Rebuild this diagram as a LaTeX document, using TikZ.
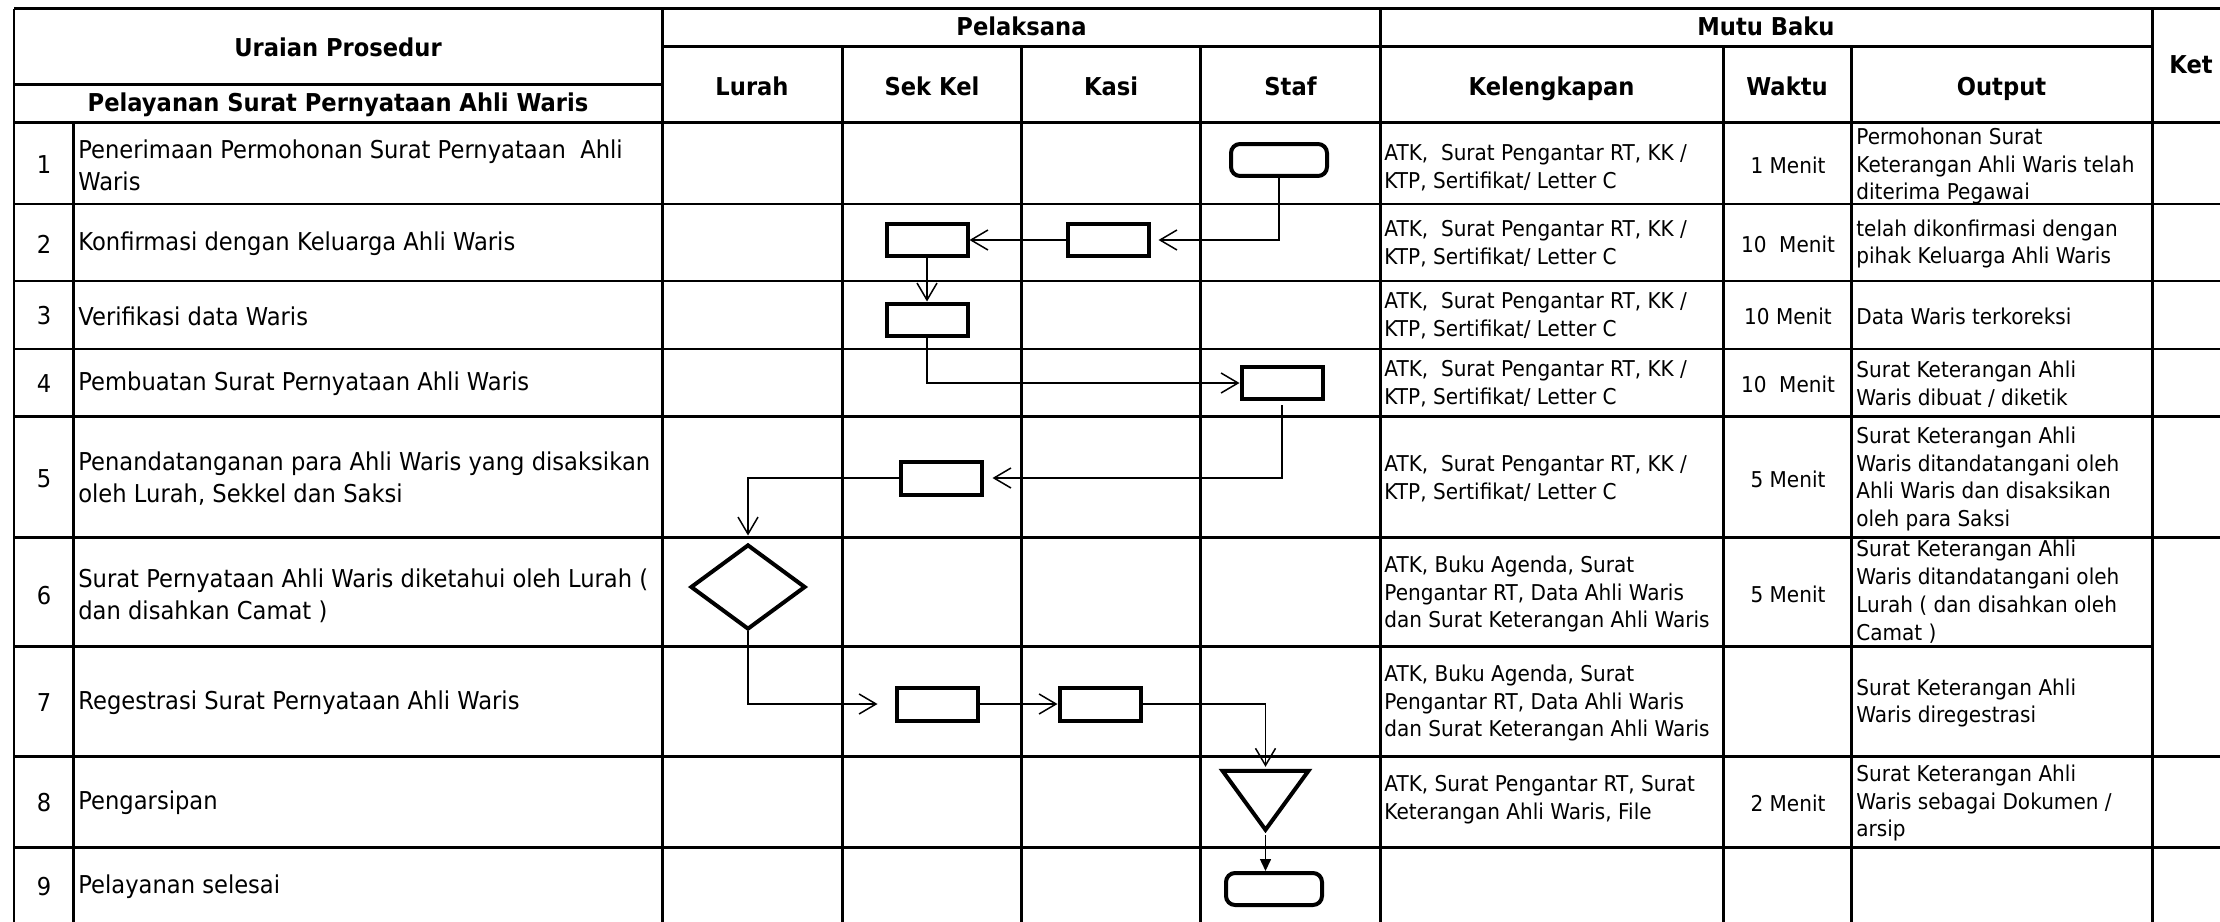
\documentclass[tikz,border=0pt]{standalone}
\usepackage{fontspec}
\setmainfont{DejaVu Sans}[FakeStretch=0.92]
\usetikzlibrary{arrows.meta,shapes.geometric}

\begin{document}
\begin{tikzpicture}[x=0.02cm,y=-0.02cm,
  >={Straight Barb[length=0.34cm,width=0.4cm]},
  gridbold/.style={line width=0.06cm},
  gridline/.style={line width=0.045cm},
  head/.style={inner sep=0pt,text depth=0pt,font=\fontsize{14}{16}\selectfont\bfseries},
  num/.style={inner sep=0pt,font=\fontsize{14}{18.2}\selectfont},
  desc/.style={anchor=west,inner sep=0pt,align=left,font=\fontsize{14}{18.2}\selectfont},
  info/.style={anchor=west,inner sep=0pt,align=left,font=\fontsize{12.4}{15.9}\selectfont},
  waktu/.style={inner sep=0pt,font=\fontsize{12.4}{15.9}\selectfont},
  procbox/.style={draw,line width=0.08cm,minimum width=1.62cm,minimum height=0.66cm,inner sep=0pt},
  termbox/.style={procbox,rounded corners=0.18cm,minimum width=1.92cm,minimum height=0.64cm},
  decbox/.style={diamond,draw,line width=0.08cm,aspect=1.4,minimum width=2.3cm,minimum height=1.7cm,inner sep=0pt},
  archbox/.style={isosceles triangle,isosceles triangle stretches,shape border rotate=270,draw,line width=0.08cm,minimum width=1.72cm,minimum height=1.18cm,inner sep=0pt},
  flow/.style={line width=0.03cm}]

  \useasboundingbox (0,0) rectangle (2220,922);

  % header
  \node[head] (hUraian) at (338,47) {Uraian Prosedur};
  \node[head] (hLayanan) at (338,102) {Pelayanan Surat Pernyataan Ahli Waris};
  \node[head] (hPelaksana) at (1021.5,26) {Pelaksana};
  \node[head] (hLurah) at (752,86) {Lurah};
  \node[head] (hSekkel) at (932,86) {Sek Kel};
  \node[head] (hKasi) at (1111,86) {Kasi};
  \node[head] (hStaf) at (1290.5,86) {Staf};
  \node[head] (hMutu) at (1766,26) {Mutu Baku};
  \node[head] (hKelengkapan) at (1551.5,86) {Kelengkapan};
  \node[head] (hWaktu) at (1787,86) {Waktu};
  \node[head] (hOutput) at (2001.5,86) {Output};
  \node[head] (hKet) at (2191,65) {Ket};

  % uraian prosedur
  \node[num] (n1) at (44,165) {1};
  \node[num] (n2) at (44,244) {2};
  \node[num] (n3) at (44,316) {3};
  \node[num] (n4) at (44,384) {4};
  \node[num] (n5) at (44,479) {5};
  \node[num] (n6) at (44,596) {6};
  \node[num] (n7) at (44,703) {7};
  \node[num] (n8) at (44,803) {8};
  \node[num] (n9) at (44,887) {9};

  \node[desc] (d1) at (78,165) {Penerimaan Permohonan Surat Pernyataan\ \ Ahli\\Waris};
  \node[desc] (d2) at (78,244) {Konfirmasi dengan Keluarga Ahli Waris};
  \node[desc] (d3) at (78,316) {Verifikasi data Waris};
  \node[desc] (d4) at (78,384) {Pembuatan Surat Pernyataan Ahli Waris};
  \node[desc] (d5) at (78,479) {Penandatanganan para Ahli Waris yang disaksikan\\oleh Lurah, Sekkel dan Saksi};
  \node[desc] (d6) at (78,596) {Surat Pernyataan Ahli Waris diketahui oleh Lurah (\\dan disahkan Camat )};
  \node[desc] (d7) at (78,703) {Regestrasi Surat Pernyataan Ahli Waris};
  \node[desc] (d8) at (78,803) {Pengarsipan};
  \node[desc] (d9) at (78,887) {Pelayanan selesai};

  % mutu baku
  \node[info] (k1) at (1384,168) {ATK,\ \ Surat Pengantar RT, KK /\\KTP, Sertifikat/ Letter C};
  \node[info] (k2) at (1384,244) {ATK,\ \ Surat Pengantar RT, KK /\\KTP, Sertifikat/ Letter C};
  \node[info] (k3) at (1384,316) {ATK,\ \ Surat Pengantar RT, KK /\\KTP, Sertifikat/ Letter C};
  \node[info] (k4) at (1384,384) {ATK,\ \ Surat Pengantar RT, KK /\\KTP, Sertifikat/ Letter C};
  \node[info] (k5) at (1384,479) {ATK,\ \ Surat Pengantar RT, KK /\\KTP, Sertifikat/ Letter C};
  \node[info] (k6) at (1384,594) {ATK, Buku Agenda, Surat\\Pengantar RT, Data Ahli Waris\\dan Surat Keterangan Ahli Waris};
  \node[info] (k7) at (1384,703) {ATK, Buku Agenda, Surat\\Pengantar RT, Data Ahli Waris\\dan Surat Keterangan Ahli Waris};
  \node[info] (k8) at (1384,800) {ATK, Surat Pengantar RT, Surat\\Keterangan Ahli Waris, File};

  \node[waktu] (w1) at (1788,165) {1 Menit};
  \node[waktu] (w2) at (1788,244) {10\ \ Menit};
  \node[waktu] (w3) at (1788,316) {10 Menit};
  \node[waktu] (w4) at (1788,384) {10\ \ Menit};
  \node[waktu] (w5) at (1788,479) {5 Menit};
  \node[waktu] (w6) at (1788,594) {5 Menit};
  \node[waktu] (w8) at (1788,803) {2 Menit};

  \node[info] (o1) at (1856,166) {Permohonan Surat\\Keterangan Ahli Waris telah\\diterima Pegawai};
  \node[info] (o2) at (1856,244) {telah dikonfirmasi dengan\\pihak Keluarga Ahli Waris};
  \node[info] (o3) at (1856,316) {Data Waris terkoreksi};
  \node[info] (o4) at (1856,384) {Surat Keterangan Ahli\\Waris dibuat / diketik};
  \node[info] (o5) at (1856,479) {Surat Keterangan Ahli\\Waris ditandatangani oleh\\Ahli Waris dan disaksikan\\oleh para Saksi};
  \node[info] (o6) at (1856,592) {Surat Keterangan Ahli\\Waris ditandatangani oleh\\Lurah ( dan disahkan oleh\\Camat )};
  \node[info] (o7) at (1856,703) {Surat Keterangan Ahli\\Waris diregestrasi};
  \node[info] (o8) at (1856,803) {Surat Keterangan Ahli\\Waris sebagai Dokumen /\\arsip};

  % grid
  \draw[gridbold] (14,9) -- (2232,9);
  \draw[gridbold] (662.5,47) -- (2152,47);
  \draw[gridbold] (14,85) -- (662.5,85);
  \draw[gridbold] (14,122.5) -- (2232,122.5);
  \draw[gridline] (14,204) -- (2232,204);
  \draw[gridline] (14,281) -- (2232,281);
  \draw[gridline] (14,349) -- (2232,349);
  \draw[gridline] (14,416.5) -- (2232,416.5);
  \draw[gridline] (14,537.5) -- (2232,537.5);
  \draw[gridline] (14,646.5) -- (2152,646.5);
  \draw[gridline] (14,756.5) -- (2232,756.5);
  \draw[gridline] (14,847.5) -- (2232,847.5);
  \draw[gridline] (14,927) -- (2232,927);

  \draw[gridbold] (14,9) -- (14,927);
  \draw[gridbold] (73.5,122.5) -- (73.5,927);
  \draw[gridbold] (662.5,9) -- (662.5,927);
  \draw[gridbold] (842,47) -- (842,927);
  \draw[gridbold] (1021.5,47) -- (1021.5,927);
  \draw[gridbold] (1200.5,47) -- (1200.5,927);
  \draw[gridbold] (1380.5,9) -- (1380.5,927);
  \draw[gridbold] (1723,47) -- (1723,927);
  \draw[gridbold] (1851,47) -- (1851,927);
  \draw[gridbold] (2152,9) -- (2152,927);
  \draw[gridbold] (2232,9) -- (2232,927);

  % alur
  \node[termbox] (mulai) at (1279,160) {};
  \node[procbox] (konfSekkel) at (927,240) {};
  \node[procbox] (konfKasi) at (1108,240) {};
  \node[procbox] (verif) at (927,320) {};
  \node[procbox] (buat) at (1282,383) {};
  \node[procbox] (ttd) at (941,478) {};
  \node[decbox] (ketahui) at (748,587) {};
  \node[procbox] (regSekkel) at (937,704) {};
  \node[procbox] (regKasi) at (1100,704) {};
  \node[archbox,anchor=apex] (arsip) at (1265.5,835) {};
  \node[termbox] (selesai) at (1274,889) {};

  \draw[flow,->,shorten >=0.16cm] (mulai.south) |- (konfKasi.east);
  \draw[flow,->] (konfKasi.west) -- (konfSekkel.east);
  \draw[flow,->] (konfSekkel.south) -- (verif.north);
  \draw[flow,->] (verif.south) |- (buat.west);
  \draw[flow,->,shorten <=0.08cm,shorten >=0.18cm] (buat.south) |- (ttd.east);
  \draw[flow,->,shorten >=0.14cm] (ttd.west) -| (ketahui.north);
  \draw[flow,->,shorten >=0.34cm] (ketahui.south) |- (regSekkel.west);
  \draw[flow,->] (regSekkel.east) -- (regKasi.west);
  \draw[flow,->,shorten >=0.04cm] (regKasi.east) -| (arsip.lower side);
  \draw[flow,-{Triangle[length=0.24cm,width=0.22cm]}] (arsip.apex) -- (arsip.apex |- selesai.north);
\end{tikzpicture}
\end{document}
